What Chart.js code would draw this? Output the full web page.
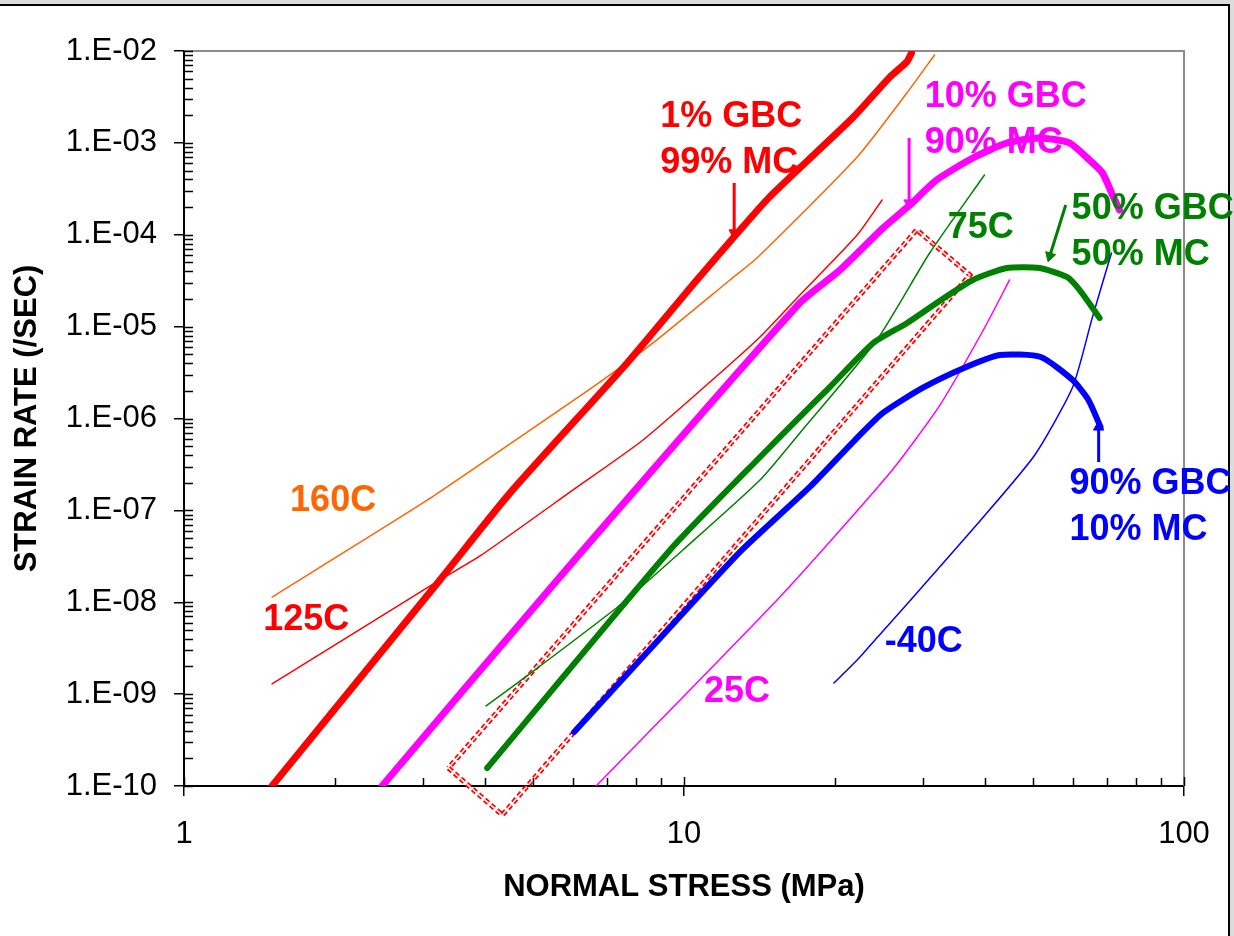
<!DOCTYPE html>
<html>
<head>
<meta charset="utf-8">
<script src="https://cdn.jsdelivr.net/npm/chart.js@4.4.1/dist/chart.umd.min.js"></script>
<style>
  html, body { margin: 0; padding: 0; background: #dcdcdc; overflow: hidden; }
  #frame { position: absolute; left: 0; top: 4px; width: 1228px; height: 940px; background: #fff;
           border-top: 2px solid #000; border-right: 2px solid #000; }
  #chart { position: absolute; left: 0; top: 0; }
</style>
</head>
<body>
<div id="frame"></div>
<canvas id="chart" width="1234" height="936"></canvas>
<script>
// axis ticks (decades only get a label)
var stressTicks = [1, 10, 100];
var rateTicks = [1e-10, 1e-9, 1e-8, 1e-7, 1e-6, 1e-5, 1e-4, 1e-3, 1e-2];

// 1% GBC / 99% MC  (thick red)
var gbc1Stress = [1.5, 3.25, 4.49, 7.69, 10.6, 12.6, 14.85, 21.8, 25.8, 27.9, 28.5];
var gbc1Rate   = [1.0e-10, 1.75e-8, 1.55e-7, 4.0e-6, 3.2e-5, 9.5e-5, 2.6e-4, 1.9e-3, 5.2e-3, 7.6e-3, 9.5e-3];

// 10% GBC / 90% MC  (thick magenta)
var gbc10Stress = [2.49, 5.58, 17.05, 20.5, 25.0, 28.3, 32.0, 37.8, 44.2, 51.4, 59.0, 64.7, 68.7, 71.95, 74.3];
var gbc10Rate   = [1.0e-10, 1.75e-8, 1.81e-5, 4.13e-5, 1.18e-4, 2.11e-4, 3.94e-4, 6.84e-4, 9.97e-4, 1.13e-3, 1.0e-3, 6.51e-4, 4.70e-4, 2.71e-4, 1.86e-4];

// 50% GBC / 50% MC  (thick green)
var gbc50Stress = [4.04, 9.38, 14.52, 17.05, 19.57, 23.9, 27.9, 32.0, 37.8, 44.2, 51.4, 58.3, 61.8, 67.8];
var gbc50Rate   = [1.57e-10, 3.71e-8, 4.32e-7, 1.04e-6, 2.20e-6, 6.64e-6, 1.09e-5, 1.81e-5, 3.22e-5, 4.35e-5, 4.35e-5, 3.47e-5, 2.51e-5, 1.24e-5];

// 90% GBC / 10% MC  (thick blue)
var gbc90Stress = [6.03, 9.51, 13.06, 17.85, 21.97, 25.0, 30.0, 36.3, 42.8, 51.7, 59.9, 64.4, 68.1];
var gbc90Rate   = [3.87e-10, 5.80e-9, 3.71e-8, 1.80e-7, 5.83e-7, 1.15e-6, 2.15e-6, 3.55e-6, 4.91e-6, 4.67e-6, 2.62e-6, 1.59e-6, 8.07e-7];

// temperature curves (thin)
var t160Stress = [1.5, 3.07, 4.99, 6.79, 8.67, 12.36, 14.06, 22.2, 27.9, 31.7];
var t160Rate   = [1.14e-8, 1.30e-7, 7.88e-7, 2.49e-6, 6.64e-6, 3.22e-5, 5.73e-5, 7.02e-4, 3.49e-3, 9.05e-3];

var t125Stress = [1.5, 3.25, 3.91, 6.0, 8.28, 12.19, 14.19, 17.05, 22.2, 24.9];
var t125Rate   = [1.29e-9, 1.75e-8, 3.19e-8, 1.67e-7, 5.83e-7, 3.64e-6, 7.71e-6, 2.21e-5, 9.94e-5, 2.39e-4];

var t75Stress = [4.02, 5.09, 7.45, 9.95, 14.19, 17.05, 24.3, 31.0, 39.9];
var t75Rate   = [7.43e-10, 1.92e-9, 9.33e-9, 3.71e-8, 2.14e-7, 6.95e-7, 7.15e-6, 6.33e-5, 4.47e-4];

var t25Stress = [6.67, 15.55, 25.9, 32.5, 39.7, 44.8];
var t25Rate   = [1.0e-10, 1.14e-8, 2.62e-7, 1.40e-6, 9.19e-6, 3.22e-5];

var tm40Stress = [19.94, 22.2, 24.4, 28.4, 39.7, 50.3, 59.9, 65.6, 71.6];
var tm40Rate   = [1.32e-9, 2.35e-9, 4.19e-9, 1.06e-8, 8.47e-8, 4.01e-7, 2.20e-6, 1.27e-5, 6.33e-5];

// dashed box
var boxStress = [3.38, 4.33, 37.3, 29.2, 3.38];
var boxRate   = [1.57e-10, 4.83e-11, 3.65e-5, 1.13e-4, 1.57e-10];

// arrows (tail, head)
var arrowRedStress = [12.6, 12.6],  arrowRedRate = [3.66e-4, 1.05e-4];
var arrowMagStress = [28.2, 28.2],  arrowMagRate = [1.13e-3, 2.22e-4];
var arrowGrnStress = [58.0, 53.9],  arrowGrnRate = [2.11e-4, 5.87e-5];
var arrowBluStress = [67.5, 67.5],  arrowBluRate = [3.36e-7, 8.07e-7];

// text labels, anchored at left / middle of first line
var labelText   = [['1% GBC', '99% MC'], ['10% GBC', '90% MC'], ['50% GBC', '50% MC'], ['90% GBC', '10% MC'],
                   ['160C'], ['125C'], ['75C'], ['25C'], ['-40C']];
var labelStress = [8.96, 30.3, 59.6, 59.0, 1.63, 1.44, 33.7, 10.96, 25.2];
var labelRate   = [1.91e-3, 3.16e-3, 1.91e-4, 1.94e-7, 1.26e-7, 6.41e-9, 1.18e-4, 1.05e-9, 3.69e-9];

var RED = '#ff0000', ORANGE = '#ff6600', MAGENTA = '#ff00ff', GREEN = '#008000', BLUE = '#0000ff';
var labelColor = [RED, MAGENTA, GREEN, BLUE, ORANGE, RED, GREEN, MAGENTA, BLUE];
var FONT = '"Liberation Sans", Arial, sans-serif';

function pts(xs, ys) {
    return xs.map(function (x, i) { return {x: x, y: ys[i]}; });
}

function curve(xs, ys, color, width) {
    return {
        data: pts(xs, ys),
        showLine: true,
        borderColor: color,
        borderWidth: width,
        pointRadius: 0,
        tension: 0.2,
        borderCapStyle: 'round',
        borderJoinStyle: 'round'
    };
}

function arrow(xs, ys, color, rot) {
    return {
        data: pts(xs, ys),
        showLine: true,
        borderColor: color,
        backgroundColor: color,
        borderWidth: 3,
        pointRadius: [0, 6],
        pointStyle: 'triangle',
        pointRotation: [0, rot],
        pointBorderWidth: 1,
        pointBorderColor: color,
        tension: 0
    };
}

function box(color, width) {
    return {
        data: pts(boxStress, boxRate),
        showLine: true,
        borderColor: color,
        borderWidth: width,
        borderDash: [5, 3],
        pointRadius: 0,
        tension: 0,
        clip: false
    };
}

function expLabel(v) {
    var e = Math.round(Math.log10(v));
    var s = String(Math.abs(e));
    if (s.length < 2) s = '0' + s;
    return '1.E' + (e < 0 ? '-' : '+') + s;
}

var decor = {
    id: 'decor',
    beforeDatasetsDraw: function (chart) {
        var ctx = chart.ctx, a = chart.chartArea;
        var xs = chart.scales.x, ys = chart.scales.y;
        ctx.save();
        // plot frame (top / right)
        ctx.strokeStyle = '#8c8c8c';
        ctx.lineWidth = 2;
        ctx.beginPath();
        ctx.moveTo(a.left, a.top);
        ctx.lineTo(a.right, a.top);
        ctx.lineTo(a.right, a.bottom);
        ctx.stroke();
        // inner tick marks
        ctx.strokeStyle = '#000';
        ctx.lineWidth = 1.5;
        ctx.beginPath();
        stressTicks.forEach(function (d) {
            for (var k = 1; k < 10; k++) {
                if (k * d > 100.0001) break;
                var px = Math.round(xs.getPixelForValue(k * d)) + 0.5;
                ctx.moveTo(px, a.bottom);
                ctx.lineTo(px, a.bottom - (k === 1 ? 9 : 8));
            }
        });
        rateTicks.forEach(function (d) {
            for (var k = 1; k < 10; k++) {
                if (k * d > 1.0001e-2) break;
                var py = Math.round(ys.getPixelForValue(k * d)) + 0.5;
                ctx.moveTo(a.left, py);
                ctx.lineTo(a.left + 9, py);
            }
        });
        ctx.stroke();
        ctx.restore();
    },
    afterDatasetsDraw: function (chart) {
        var ctx = chart.ctx;
        var xs = chart.scales.x, ys = chart.scales.y;
        ctx.save();
        ctx.font = 'bold 36px ' + FONT;
        ctx.textAlign = 'left';
        ctx.textBaseline = 'middle';
        labelText.forEach(function (lines, i) {
            var px = xs.getPixelForValue(labelStress[i]);
            var py = ys.getPixelForValue(labelRate[i]);
            ctx.fillStyle = labelColor[i];
            lines.forEach(function (t, j) {
                ctx.fillText(t, px, py + j * 46);
            });
        });
        ctx.restore();
    }
};

var datasets = [
    arrow(arrowRedStress, arrowRedRate, RED, 180),
    arrow(arrowMagStress, arrowMagRate, MAGENTA, 180),
    arrow(arrowGrnStress, arrowGrnRate, GREEN, 197),
    arrow(arrowBluStress, arrowBluRate, BLUE, 0),
    curve(gbc1Stress, gbc1Rate, RED, 7),
    curve(gbc10Stress, gbc10Rate, MAGENTA, 7),
    curve(gbc50Stress, gbc50Rate, GREEN, 6),
    curve(gbc90Stress, gbc90Rate, BLUE, 6),
    curve(t160Stress, t160Rate, ORANGE, 1.5),
    curve(t125Stress, t125Rate, RED, 1.5),
    curve(t75Stress, t75Rate, GREEN, 1.5),
    curve(t25Stress, t25Rate, MAGENTA, 1.5),
    curve(tm40Stress, tm40Rate, BLUE, 1.5),
    box('#ffffff', 1.5),
    box(RED, 5)
];

new Chart(document.getElementById('chart'), {
    type: 'scatter',
    data: {datasets: datasets},
    plugins: [decor],
    options: {
        responsive: false,
        animation: false,
        events: [],
        devicePixelRatio: 1,
        layout: {padding: {left: 0, top: 51, right: 50, bottom: 0}},
        plugins: {legend: {display: false}, tooltip: {enabled: false}},
        scales: {
            x: {
                type: 'logarithmic',
                min: 1,
                max: 100,
                afterBuildTicks: function (scale) {
                    scale.ticks = stressTicks.map(function (v) { return {value: v}; });
                },
                afterFit: function (scale) { scale.height = 150; },
                grid: {drawOnChartArea: false, drawTicks: true, tickLength: 10, color: '#000', lineWidth: 1.5},
                border: {display: true, color: '#000', width: 2},
                ticks: {
                    color: '#000',
                    padding: 20,
                    maxRotation: 0,
                    font: {family: FONT, size: 31},
                    callback: function (v) { return String(v); }
                },
                title: {
                    display: true,
                    text: 'NORMAL STRESS (MPa)',
                    color: '#000',
                    font: {family: FONT, size: 31, weight: 'bold'},
                    padding: {top: 0, bottom: 30}
                }
            },
            y: {
                type: 'logarithmic',
                min: 1e-10,
                max: 1e-2,
                afterBuildTicks: function (scale) {
                    scale.ticks = rateTicks.map(function (v) { return {value: v}; });
                },
                afterFit: function (scale) { scale.width = 184; },
                grid: {drawOnChartArea: false, drawTicks: true, tickLength: 10, color: '#000', lineWidth: 1.5},
                border: {display: true, color: '#000', width: 2},
                ticks: {
                    color: '#000',
                    padding: 17,
                    font: {family: FONT, size: 31},
                    callback: function (v) { return expLabel(v); }
                },
                title: {
                    display: true,
                    text: 'STRAIN RATE (/SEC)',
                    color: '#000',
                    font: {family: FONT, size: 31, weight: 'bold'},
                    padding: {top: 9, bottom: 0}
                }
            }
        }
    }
});
</script>
</body>
</html>
